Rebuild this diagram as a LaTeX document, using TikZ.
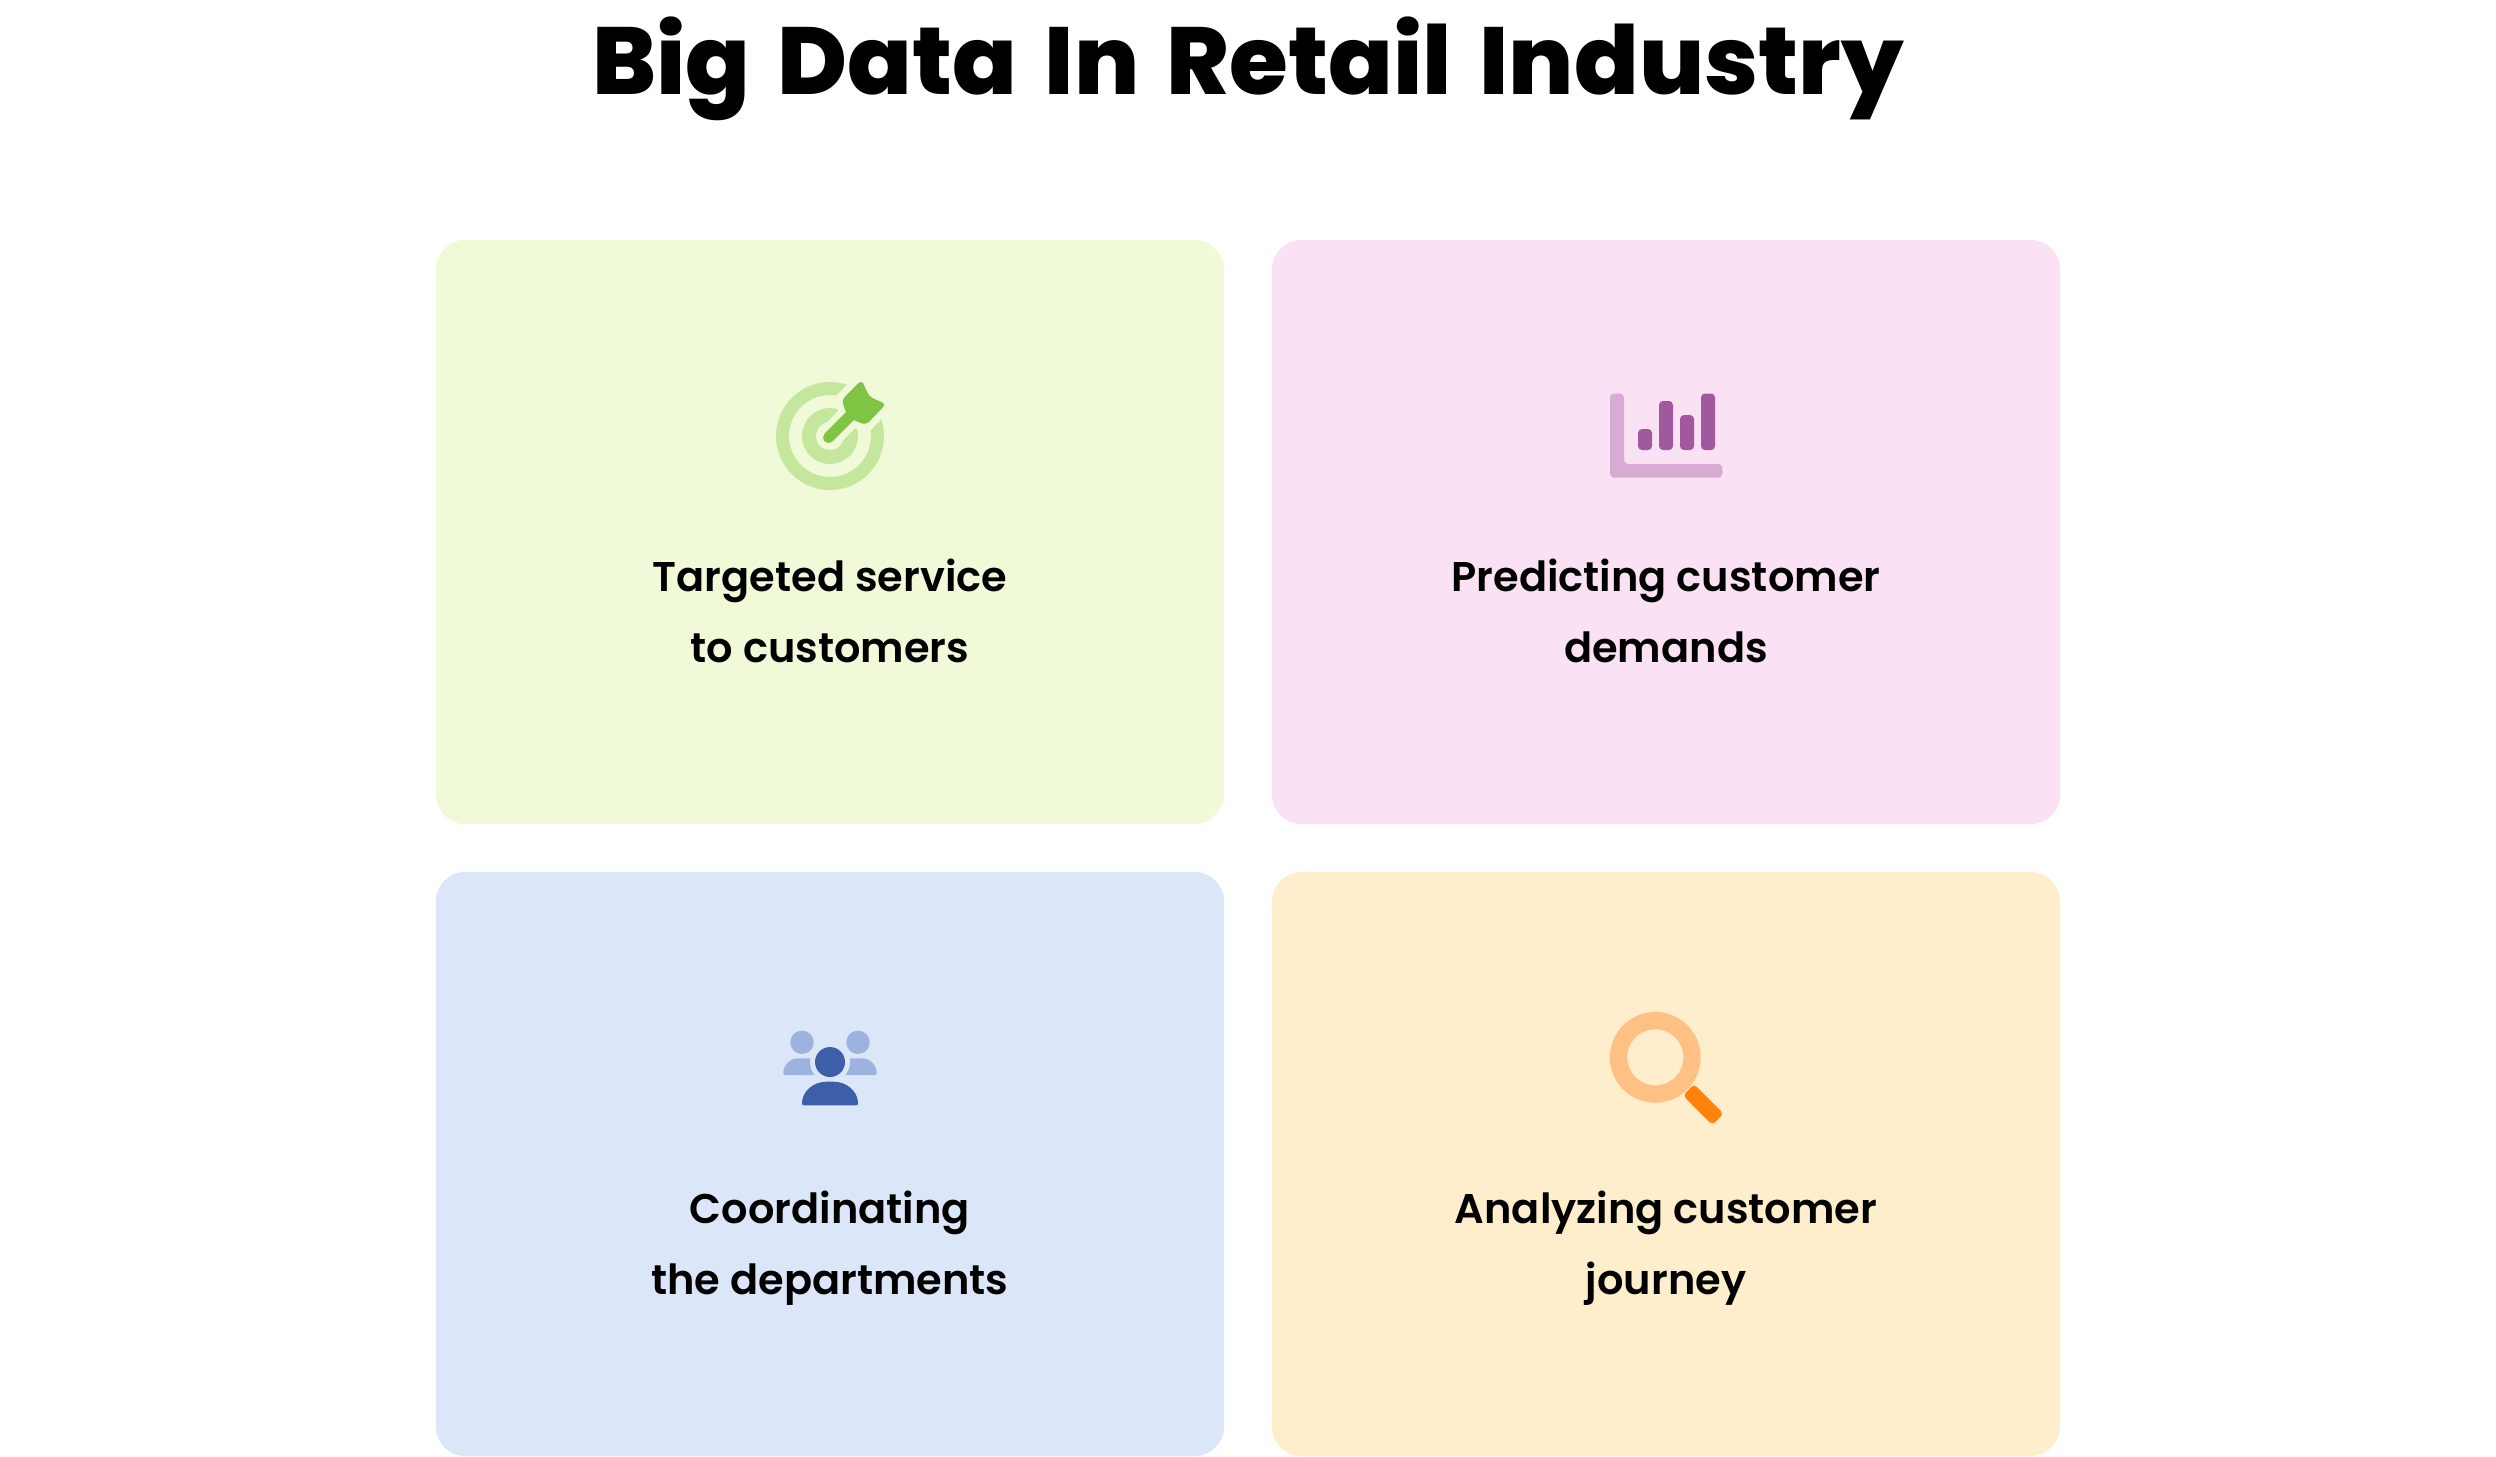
\documentclass[tikz,border=0pt]{standalone}
\usepackage{fontspec}
\setmainfont{Poppins}[BoldFont={Poppins SemiBold}]
\newfontfamily\titlefont{Poppins ExtraBold}[WordSpace=1.5]
\definecolor{cardgreen}{HTML}{F0FAD8}
\definecolor{cardpink}{HTML}{FAE1F3}
\definecolor{cardblue}{HTML}{DBE7F9}
\definecolor{cardorange}{HTML}{FFEECC}
\definecolor{dartgreen}{HTML}{7FC443}
\definecolor{ringgreen}{HTML}{C5E79D}
\definecolor{barpurple}{HTML}{A2589F}
\definecolor{axispurple}{HTML}{D8ABD5}
\definecolor{userblue}{HTML}{3D5FA9}
\definecolor{teamblue}{HTML}{9DB2DE}
\definecolor{handleorange}{HTML}{FF820A}
\definecolor{lensorange}{HTML}{FFC084}
\tikzset{
  card/.style={minimum width=7.88cm,minimum height=5.84cm,rounded corners=0.3cm,inner sep=0pt},
  cardtext/.style={align=center,font=\fontsize{11.8pt}{20.4pt}\selectfont\bfseries,inner sep=0pt,text=black,execute at begin node=\strut,execute at end node=\strut},
  bar/.style={rounded corners=0.04cm,fill=barpurple}
}
\newcommand{\dartoutline}{(841.7,400) -- (861.7,380) -- (869.3,396.7) -- (886,404) -- (866,425) -- (851,419) -- (846.5,414) -- cycle}
\begin{document}
\begin{tikzpicture}[x=0.01cm,y=-0.01cm]
  \useasboundingbox (0,0) rectangle (2496,1456);
  \node[font=\titlefont\fontsize{27.1pt}{30pt}\selectfont,inner sep=0pt,anchor=base] (title) at (1248,94) {Big Data In Retail Industry};
  % cards
  \node[card,fill=cardgreen] (targetcard) at (830,532) {};
  \node[card,fill=cardpink] (demandcard) at (1666,532) {};
  \node[card,fill=cardblue] (teamcard) at (830,1164) {};
  \node[card,fill=cardorange] (journeycard) at (1666,1164) {};
  \node[cardtext] (targettext) at (830,621.5) {Targeted service\\to customers};
  \node[cardtext] (demandtext) at (1666,621.5) {Predicting customer\\demands};
  \node[cardtext] (teamtext) at (830,1253.5) {Coordinating\\the departments};
  \node[cardtext] (journeytext) at (1666,1253.5) {Analyzing customer\\journey};
  % target icon
  \draw[ringgreen,line width=0.13cm] (830,436) circle (47.5);
  \draw[ringgreen,line width=0.14cm] (830,436) circle (21);
  \draw[cardgreen,line width=0.24cm,line cap=round] (828.5,437.5) -- (855,411);
  \draw[cardgreen,fill=cardgreen,line width=0.14cm,line join=round] \dartoutline;
  \draw[dartgreen,line width=0.11cm,line cap=round] (828.5,437.5) -- (855,411);
  \fill[dartgreen,rounded corners=0.04cm] \dartoutline;
  % chart icon
  \fill[axispurple,rounded corners=0.04cm] (1610,393.5) -- (1624,393.5) -- (1624,464) -- (1722.3,464) -- (1722.3,477.7) -- (1610,477.7) -- cycle;
  \fill[bar] (1638,429) rectangle (1652,450);
  \fill[bar] (1659,401) rectangle (1673,450);
  \fill[bar] (1680,415) rectangle (1694,450);
  \fill[bar] (1701,393.5) rectangle (1715,450);
  % people icon
  \fill[teamblue] (802,1042.3) circle (11.7);
  \fill[teamblue] (858,1042.3) circle (11.7);
  \fill[teamblue] (785,1075) .. controls (784,1075) and (783.3,1074.5) .. (783.3,1073) .. controls (783.3,1065) and (790,1058.3) .. (798,1058.3) -- (826,1058.3) -- (826,1075) -- cycle;
  \fill[teamblue] (875,1075) .. controls (876,1075) and (876.7,1074.5) .. (876.7,1073) .. controls (876.7,1065) and (870,1058.3) .. (862,1058.3) -- (834,1058.3) -- (834,1075) -- cycle;
  \fill[cardblue] (830,1062) circle (20);
  \fill[userblue] (830,1062) circle (15);
  \fill[userblue] (804,1105.3) .. controls (802.5,1105.3) and (802,1104.5) .. (802,1103) .. controls (802,1091) and (814,1081.7) .. (826,1081.7) -- (834,1081.7) .. controls (846,1081.7) and (858,1091) .. (858,1103) .. controls (858,1104.5) and (857.5,1105.3) .. (856,1105.3) -- cycle;
  % lens icon
  \draw[lensorange,line width=0.173cm] (1655.3,1057.3) circle (36.7);
  \fill[handleorange,rounded corners=0.04cm] (1694,1084) -- (1683,1095.5) -- (1712.5,1125) -- (1723.5,1113.5) -- cycle;
\end{tikzpicture}
\end{document}
